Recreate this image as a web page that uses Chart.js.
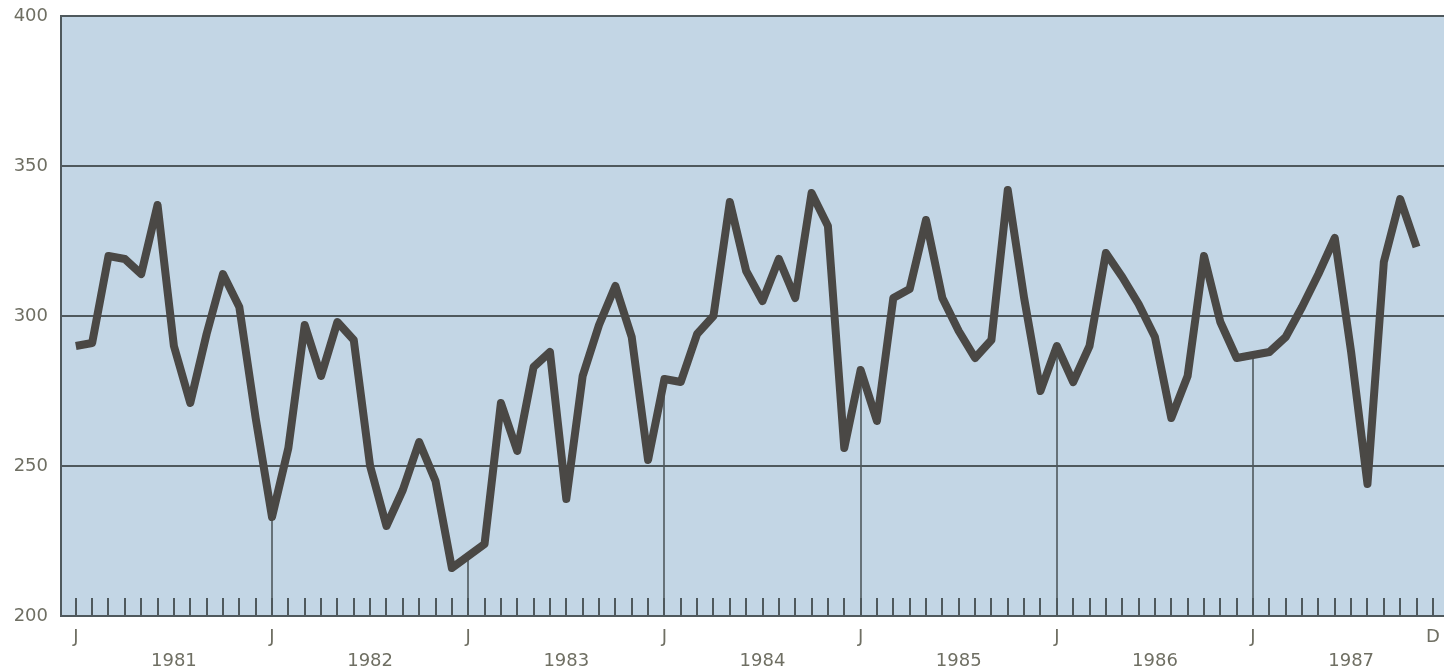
<!DOCTYPE html>
<html>
<head>
<meta charset="utf-8">
<script src="https://cdn.jsdelivr.net/npm/chart.js@4"></script>
<style>
  html, body { margin: 0; padding: 0; background: #ffffff; }
  canvas { display: block; }
</style>
</head>
<body>
<canvas id="grafico" width="1444" height="671"></canvas>
<script>
//DATOS
const years = ["1981", "1982", "1983", "1984", "1985", "1986", "1987"];
const monthInitials = ["J", "F", "M", "A", "M", "J", "J", "A", "S", "O", "N", "D"];
const yTicks = [200, 250, 300, 350, 400];

const v1981 = [290, 291, 320, 319, 314, 337, 290, 271, 294, 314, 303, 266];
const v1982 = [233, 256, 297, 280, 298, 292, 250, 230, 242, 258, 245, 216];
const v1983 = [220, 224, 271, 255, 283, 288, 239, 280, 297, 310, 293, 252];
const v1984 = [279, 278, 294, 300, 338, 315, 305, 319, 306, 341, 330, 256];
const v1985 = [282, 265, 306, 309, 332, 306, 295, 286, 292, 342, 306, 275];
const v1986 = [290, 278, 290, 321, 313, 304, 293, 266, 280, 320, 298, 286];
const v1987 = [287, 288, 293, 303, 314, 326, 288, 244, 318, 339, 323, null];

//COLORES
const fondoPlot = "#c3d6e5";
const colorLinea = "#4a4845";
const colorRejilla = "#4f595d";
const colorTexto = "#6f6f63";

const valores = [].concat(v1981, v1982, v1983, v1984, v1985, v1986, v1987);
const puntos = valores.map((v, i) => ({ x: i, y: v }));
const nMeses = valores.length;

// posiciones de etiquetas: J en cada enero, año a mitad de año, D al final
const etiquetasX = [];
years.forEach((y, i) => {
  etiquetasX.push(i * 12);
  etiquetasX.push(i * 12 + 6);
});
etiquetasX.push(nMeses - 1);

//PLUGINS
const fondo = {
  id: "fondo",
  beforeDraw(chart) {
    const { ctx, chartArea } = chart;
    ctx.save();
    ctx.fillStyle = fondoPlot;
    ctx.fillRect(chartArea.left, chartArea.top, chartArea.right - chartArea.left, chartArea.bottom - chartArea.top);
    ctx.restore();
  },
};

const marcasMes = {
  id: "marcasMes",
  beforeDatasetsDraw(chart) {
    const { ctx, chartArea, scales } = chart;
    const xs = scales.x, ys = scales.y;
    ctx.save();
    ctx.strokeStyle = colorRejilla;
    // marcas de cada mes
    ctx.lineWidth = 2;
    for (let k = 0; k < nMeses; k++) {
      const px = Math.round(xs.getPixelForValue(k));
      ctx.beginPath();
      ctx.moveTo(px, chartArea.bottom);
      ctx.lineTo(px, chartArea.bottom - 18);
      ctx.stroke();
    }
    // lineas verticales de enero hasta la serie
    ctx.lineWidth = 1.6;
    for (let k = 12; k < nMeses; k += 12) {
      if (valores[k] == null) continue;
      const px = Math.round(xs.getPixelForValue(k));
      ctx.beginPath();
      ctx.moveTo(px, chartArea.bottom);
      ctx.lineTo(px, ys.getPixelForValue(valores[k]));
      ctx.stroke();
    }
    ctx.restore();
  },
};

//GRAFICO
const config = {
  type: "line",
  data: {
    datasets: [
      {
        data: puntos,
        borderColor: colorLinea,
        borderWidth: 8,
        borderJoinStyle: "round",
        borderCapStyle: "butt",
        pointRadius: 0,
        pointHoverRadius: 0,
        tension: 0,
        fill: false,
      },
    ],
  },
  plugins: [fondo, marcasMes],
  options: {
    responsive: false,
    animation: false,
    devicePixelRatio: 1,
    layout: {
      autoPadding: false,
      padding: { top: 16, right: 0, bottom: 0, left: 0 },
    },
    plugins: {
      legend: { display: false },
      tooltip: { enabled: false },
    },
    scales: {
      x: {
        type: "linear",
        min: -0.905,
        max: 83.68,
        afterFit(scale) {
          scale.height = 55;
          scale.paddingLeft = 0;
          scale.paddingRight = 0;
        },
        afterBuildTicks(scale) {
          scale.ticks = etiquetasX.map((v) => ({ value: v }));
        },
        grid: { display: false, drawTicks: false },
        border: { display: true, color: colorRejilla, width: 2 },
        ticks: {
          autoSkip: false,
          maxRotation: 0,
          minRotation: 0,
          padding: 10,
          color: colorTexto,
          font: { family: "DejaVu Sans", size: 18, lineHeight: 1.3 },
          callback: function (value) {
            if (value === nMeses - 1) return monthInitials[11];
            if (value % 12 === 0) return monthInitials[0];
            return ["", years[Math.floor(value / 12)]];
          },
        },
      },
      y: {
        min: 200,
        max: 400,
        afterFit(scale) {
          scale.width = 61;
          scale.paddingTop = 0;
          scale.paddingBottom = 0;
        },
        afterBuildTicks(scale) {
          scale.ticks = yTicks.map((v) => ({ value: v }));
        },
        grid: { color: colorRejilla, lineWidth: 2, drawTicks: false },
        border: { display: true, color: colorRejilla, width: 2 },
        ticks: {
          padding: 13,
          color: colorTexto,
          font: { family: "DejaVu Sans", size: 18 },
        },
      },
    },
  },
};

const myChart = new Chart(document.getElementById("grafico"), config);
</script>
</body>
</html>
